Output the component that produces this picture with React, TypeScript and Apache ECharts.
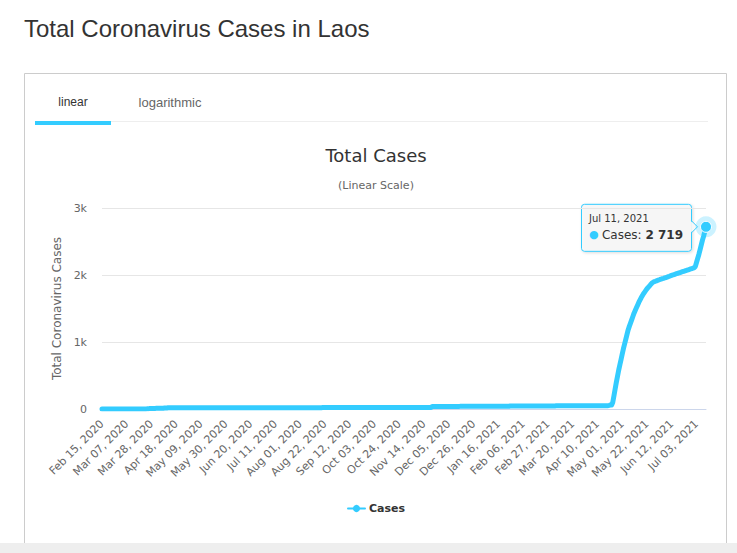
import React, { useEffect, useRef } from 'react';
import * as echarts from 'echarts';

const PAGE_TITLE = 'Total Coronavirus Cases in Laos';
const TABS = ['linear', 'logarithmic'];
const CHART_TITLE = 'Total Cases';
const CHART_SUBTITLE = '(Linear Scale)';
const Y_AXIS_TITLE = 'Total Coronavirus Cases';
const SERIES_NAME = 'Cases';
const Y_TICKS = [0, 1000, 2000, 3000];
const Y_TICK_LABELS = ['0', '1k', '2k', '3k'];
const START_DATE = { year: 2020, month: 1, day: 15 };
const MONTHS = ['Jan', 'Feb', 'Mar', 'Apr', 'May', 'Jun', 'Jul', 'Aug', 'Sep', 'Oct', 'Nov', 'Dec'];
const LABEL_EVERY = 21;

// daily totals, one row per 21 days starting Feb 15, 2020
const casesRows: number[][] = [
  [0, 0, 0, 0, 0, 0, 0, 0, 0, 0, 0, 0, 0, 0, 0, 0, 0, 0, 0, 0, 0],
  [0, 0, 0, 0, 0, 0, 0, 0, 0, 0, 0, 0, 0, 0, 0, 0, 0, 2, 3, 6, 6],
  [8, 8, 8, 9, 10, 10, 10, 10, 11, 11, 12, 15, 16, 16, 19, 19, 19, 19, 19, 19, 19],
  [19, 19, 19, 19, 19, 19, 19, 19, 19, 19, 19, 19, 19, 19, 19, 19, 19, 19, 19, 19, 19],
  [19, 19, 19, 19, 19, 19, 19, 19, 19, 19, 19, 19, 19, 19, 19, 19, 19, 19, 19, 19, 19],
  [19, 19, 19, 19, 19, 19, 19, 19, 19, 19, 19, 19, 19, 19, 19, 19, 19, 19, 19, 19, 19],
  [19, 19, 19, 19, 19, 19, 19, 19, 19, 19, 19, 19, 19, 19, 19, 19, 19, 19, 19, 19, 19],
  [19, 19, 19, 19, 19, 19, 19, 19, 19, 19, 19, 19, 19, 19, 19, 19, 20, 20, 20, 20, 20],
  [20, 20, 20, 20, 20, 20, 20, 20, 20, 20, 20, 20, 20, 20, 20, 20, 20, 20, 20, 22, 22],
  [22, 22, 22, 22, 22, 22, 22, 22, 22, 22, 22, 22, 22, 22, 22, 22, 22, 22, 22, 22, 22],
  [23, 23, 23, 23, 23, 23, 23, 23, 23, 23, 23, 23, 23, 23, 23, 23, 23, 23, 23, 23, 23],
  [23, 23, 23, 23, 23, 23, 23, 23, 23, 23, 23, 23, 23, 23, 23, 23, 23, 23, 23, 23, 23],
  [24, 24, 24, 24, 24, 24, 24, 24, 24, 24, 24, 24, 24, 24, 24, 24, 24, 24, 24, 24, 24],
  [24, 24, 24, 24, 24, 24, 24, 39, 39, 39, 39, 39, 39, 39, 39, 39, 39, 39, 39, 39, 39],
  [39, 39, 39, 39, 39, 39, 39, 39, 39, 39, 41, 41, 41, 41, 41, 41, 41, 41, 41, 41, 41],
  [41, 41, 41, 41, 41, 41, 41, 41, 41, 41, 41, 41, 41, 41, 41, 41, 41, 41, 41, 41, 41],
  [41, 41, 41, 41, 41, 41, 41, 41, 41, 41, 45, 45, 45, 45, 45, 45, 45, 45, 45, 45, 45],
  [45, 45, 45, 45, 45, 45, 45, 45, 45, 45, 45, 45, 45, 45, 45, 45, 45, 45, 45, 45, 45],
  [45, 45, 45, 45, 45, 45, 45, 47, 47, 47, 47, 47, 47, 47, 49, 49, 49, 49, 49, 49, 49],
  [49, 49, 49, 49, 49, 49, 49, 49, 49, 49, 49, 49, 49, 49, 49, 49, 49, 49, 49, 49, 49],
  [49, 49, 49, 49, 49, 49, 49, 49, 49, 49, 54, 60, 60, 102, 200, 300, 400, 490, 580, 660, 740],
  [820, 900, 970, 1040, 1110, 1180, 1233, 1280, 1330, 1380, 1430, 1470, 1510, 1550, 1590, 1625, 1660, 1690, 1720, 1745, 1770],
  [1795, 1815, 1835, 1855, 1876, 1890, 1900, 1906, 1913, 1920, 1926, 1933, 1939, 1945, 1950, 1956, 1962, 1968, 1975, 1982, 1990],
  [1996, 2001, 2007, 2013, 2019, 2025, 2031, 2037, 2043, 2049, 2055, 2060, 2066, 2072, 2078, 2084, 2090, 2096, 2102, 2110, 2128],
  [2190, 2250, 2310, 2380, 2450, 2520, 2580, 2650, 2719],
];

const cases: number[] = casesRows.flat();

const fmtDate = (i: number) => {
  const d = new Date(Date.UTC(START_DATE.year, START_DATE.month, START_DATE.day + i));
  return `${MONTHS[d.getUTCMonth()]} ${String(d.getUTCDate()).padStart(2, '0')}, ${d.getUTCFullYear()}`;
};
const dates: string[] = cases.map((_, i) => fmtDate(i));

const COLOR = '#33ccff';
const CHART_FONT = 'DejaVu Sans, Verdana, sans-serif';
const PAGE_FONT = 'Liberation Sans, Arial, sans-serif';

const fmtThousands = (v: number) => String(v).replace(/\B(?=(\d{3})+(?!\d))/g, ' ');

export default function App() {
  const ref = useRef<HTMLDivElement>(null);

  useEffect(() => {
    if (!ref.current) return;
    const chart = echarts.init(ref.current, undefined, { renderer: 'svg' });
    const lastIdx = cases.length - 1;
    const lastVal = cases[lastIdx];

    const baseOption: any = {
      animation: false,
      backgroundColor: '#fff',
      grid: { left: 102, right: 31, top: 208, bottom: 144, containLabel: false },
      legend: {
        data: [SERIES_NAME],
        top: 498,
        left: 342,
        itemWidth: 17,
        itemHeight: 9,
        itemGap: 5,
        textStyle: { color: '#333', fontWeight: 'bold', fontSize: 11, fontFamily: CHART_FONT, padding: [0, 0, 0, -1] },
      },
      xAxis: {
        type: 'category',
        data: dates,
        boundaryGap: false,
        axisLine: { lineStyle: { color: '#ccd6eb' } },
        axisTick: { show: false },
        axisLabel: {
          interval: LABEL_EVERY - 1,
          rotate: 45,
          fontSize: 11,
          color: '#666',
          fontFamily: CHART_FONT,
          margin: 13,
        },
        splitLine: { show: false },
      },
      yAxis: {
        type: 'value',
        min: Y_TICKS[0],
        max: Y_TICKS[Y_TICKS.length - 1],
        interval: Y_TICKS[1] - Y_TICKS[0],
        axisLine: { show: false },
        axisTick: { show: false },
        axisLabel: {
          formatter: (v: number) => Y_TICK_LABELS[Y_TICKS.indexOf(v)] ?? '',
          fontSize: 11,
          color: '#666',
          fontFamily: CHART_FONT,
          margin: 15,
        },
        splitLine: { lineStyle: { color: '#e6e6e6' } },
        name: Y_AXIS_TITLE,
        nameLocation: 'middle',
        nameGap: 38,
        nameRotate: 90,
        nameTextStyle: { color: '#666', fontSize: 12, fontFamily: CHART_FONT },
      },
      series: [
        {
          name: SERIES_NAME,
          type: 'line',
          data: cases,
          showSymbol: false,
          symbol: 'circle',
          symbolSize: 8,
          itemStyle: { color: COLOR },
          lineStyle: { color: COLOR, width: 5, join: 'round', cap: 'round' },
          markPoint: {
            silent: true,
            label: { show: false },
            data: [
              { coord: [lastIdx, lastVal], symbol: 'circle', symbolSize: 21, itemStyle: { color: 'rgba(51,204,255,0.25)' } },
              { coord: [lastIdx, lastVal], symbol: 'circle', symbolSize: 11, itemStyle: { color: COLOR, borderColor: '#fff', borderWidth: 1 } },
            ],
          },
        },
      ],
    };

    const staticGraphics: any[] = [
      { id: 'pageTitle', type: 'text', left: 24, top: 16, style: { text: PAGE_TITLE, font: `24px ${PAGE_FONT}`, fill: '#333' } },
      { id: 'panel', type: 'rect', shape: { x: 24.5, y: 73.5, width: 702, height: 490 }, style: { fill: 'none', stroke: '#cccccc', lineWidth: 1 }, z: -1 },
      { id: 'band', type: 'rect', shape: { x: 0, y: 543, width: 737, height: 10 }, style: { fill: '#eeeeee' }, z: 10 },
      { id: 'tabLine', type: 'line', shape: { x1: 35, y1: 121.5, x2: 708, y2: 121.5 }, style: { stroke: '#eeeeee', lineWidth: 1 } },
      { id: 'tabUnder', type: 'rect', shape: { x: 35, y: 121, width: 76, height: 4 }, style: { fill: COLOR } },
      { id: 'tab0', type: 'text', x: 73, y: 102, style: { text: TABS[0], font: `12px ${PAGE_FONT}`, fill: '#333', align: 'center', verticalAlign: 'middle' } },
      { id: 'tab1', type: 'text', x: 170, y: 102, style: { text: TABS[1], font: `13px ${PAGE_FONT}`, fill: '#666', align: 'center', verticalAlign: 'middle' } },
      { id: 'chartTitle', type: 'text', x: 376, y: 155, style: { text: CHART_TITLE, font: `18px ${CHART_FONT}`, fill: '#333', align: 'center', verticalAlign: 'middle' } },
      { id: 'chartSub', type: 'text', x: 376, y: 185, style: { text: CHART_SUBTITLE, font: `11px ${CHART_FONT}`, fill: '#666', align: 'center', verticalAlign: 'middle' } },
    ];

    chart.setOption({ ...baseOption, graphic: staticGraphics });

    const [px, py] = chart.convertToPixel({ seriesIndex: 0 }, [lastIdx, lastVal]) as number[];
    const bx = px - 125;
    const by = py - 23;
    const bw = 110;
    const bh = 47;
    const tipFill = 'rgba(247,247,247,0.92)';
    const tipGroup = {
      id: 'tooltip',
      type: 'group',
      z: 100,
      children: [
        {
          type: 'rect',
          shape: { x: bx + 0.5, y: by + 0.5, width: bw, height: bh, r: 3 },
          style: { fill: tipFill, stroke: COLOR, lineWidth: 1, shadowBlur: 3, shadowColor: 'rgba(0,0,0,0.15)', shadowOffsetX: 1, shadowOffsetY: 1 },
        },
        {
          type: 'polygon',
          shape: { points: [[bx + bw - 0.5, py - 6], [bx + bw + 6.5, py], [bx + bw - 0.5, py + 6]] },
          style: { fill: tipFill },
        },
        {
          type: 'polyline',
          shape: { points: [[bx + bw + 0.5, py - 6], [bx + bw + 6.5, py], [bx + bw + 0.5, py + 6]] },
          style: { stroke: COLOR, lineWidth: 1, fill: 'none' },
        },
        {
          type: 'text',
          x: bx + 8,
          y: py - 8,
          style: { text: dates[lastIdx], font: `10px ${CHART_FONT}`, fill: '#333', verticalAlign: 'middle' },
        },
        {
          type: 'text',
          x: bx + 8,
          y: py + 8,
          style: {
            text: `{b|●} {t|${SERIES_NAME}: }{v|${fmtThousands(lastVal)}}`,
            verticalAlign: 'middle',
            rich: {
              b: { fill: COLOR, fontSize: 11, fontFamily: CHART_FONT },
              t: { fill: '#333', fontSize: 12, fontFamily: CHART_FONT },
              v: { fill: '#333', fontSize: 12, fontWeight: 'bold', fontFamily: CHART_FONT },
            },
          },
        },
      ],
    };

    chart.setOption({ graphic: [...staticGraphics, tipGroup] });

    return () => chart.dispose();
  }, []);

  return <div ref={ref} style={{ position: 'absolute', left: 0, top: 0, width: 737, height: 553 }} />;
}
